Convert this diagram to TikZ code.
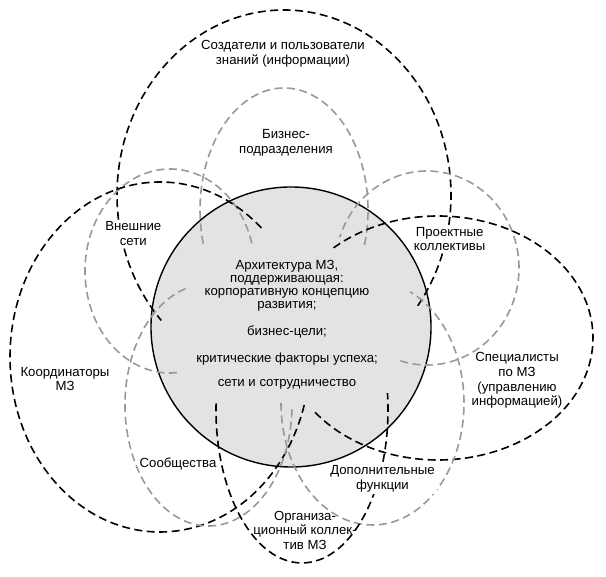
\documentclass[tikz,border=0pt]{standalone}
\usepackage{fontspec}
\setmainfont{Liberation Sans}
\usetikzlibrary{calc}
\begin{document}
\begin{tikzpicture}[x=1pt,y=1pt,
  blk/.style={line width=1.6pt,black,dash pattern=on 8pt off 4.5pt},
  gry/.style={line width=1.6pt,black!40,dash pattern=on 8pt off 4.5pt},
  lbl/.style={align=center,inner sep=1pt,font=\fontsize{13.2}{14.6}\selectfont},
  cover/.style={lbl,fill=white,inner sep=2pt}]
\useasboundingbox (0,0) rectangle (606,577);
% central circle
\node[circle,draw=black,line width=1.4pt,fill=black!11,minimum size=280pt,inner sep=0pt] (core) at (291,250) {};
% Создатели и пользователи
\draw[blk] ($(284,382)+(-36.8:167 and 185)$) arc[start angle=-36.8,end angle=222.7,x radius=167,y radius=185];
% Бизнес-подразделения
\draw[gry] ($(284,367)+(-16.7:84 and 122)$) arc[start angle=-16.7,end angle=196.7,x radius=84,y radius=122];
% Внешние сети
\draw[gry] ($(170,306)+(15.7:85 and 102)$) arc[start angle=15.7,end angle=276,x radius=85,y radius=102];
% Проектные коллективы
\draw[gry] ($(427,309)+(-106.8:92 and 97)$) arc[start angle=-106.8,end angle=161.3,x radius=92,y radius=97];
% Специалисты
\draw[blk] ($(438,239)+(-142.5:155 and 122)$) arc[start angle=-142.5,end angle=134.2,x radius=155,y radius=122];
% Координаторы
\draw[blk] ($(160,220)+(-312.5:150 and 175)$) arc[start angle=-312.5,end angle=-15.7,x radius=150,y radius=175];
% Сообщества
\draw[gry] ($(208.5,172)+(106:83.5 and 121)$) arc[start angle=106,end angle=359,x radius=83.5,y radius=121];
% Дополнительные функции
\draw[gry] ($(372.5,174)+(-180:91.5 and 122)$) arc[start angle=-180,end angle=65.7,x radius=91.5,y radius=122];
% Организационный коллектив
\draw[blk] ($(302,167)+(-182.5:86 and 153)$) arc[start angle=-182.5,end angle=6.3,x radius=86,y radius=153];
% labels
\node[lbl] (creators) at (283,523.5) {Создатели и пользователи\\знаний (информации)};
\node[lbl] (business) at (286,434) {Бизнес-\\подразделения};
\node[cover] (external) at (133.3,343.3) {Внешние\\сети};
\node[cover] (project) at (449.7,338.1) {Проектные\\коллективы};
\node[lbl,font=\fontsize{13.2}{13}\selectfont] (centre) at (287,252) {Архитектура МЗ,\\поддерживающая:\\корпоративную концепцию\\развития;\\[13.5pt]бизнес-цели;\\[13.7pt]критические факторы успеха;\\[11.6pt]сети и сотрудничество};
\node[lbl] (coord) at (65,197.8) {Координаторы\\МЗ};
\node[lbl] (spec) at (517,196.5) {Специалисты\\по МЗ\\(управлению\\информацией)};
\node[lbl] (comm) at (178,113) {Сообщества};
\node[cover] (extra) at (382.5,98.2) {Дополнительные\\функции};
\node[lbl] (org) at (305,46.7) {Организа-\\ционный коллек-\\тив МЗ};
\end{tikzpicture}
\end{document}
